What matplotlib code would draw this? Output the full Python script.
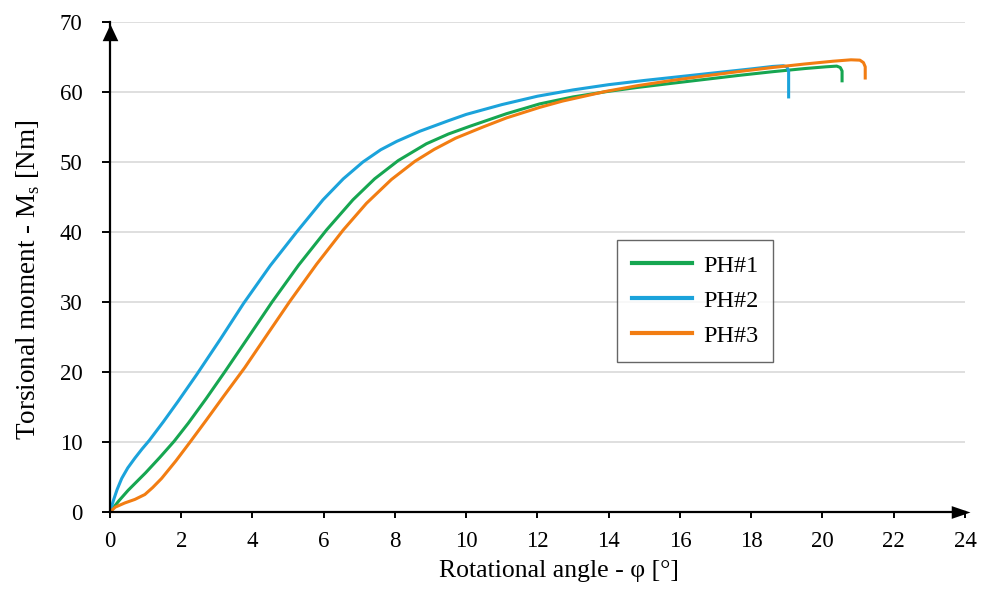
import matplotlib
matplotlib.use("Agg")
import matplotlib.pyplot as plt
from matplotlib.path import Path

plt.rcParams['font.family'] = ['Liberation Serif', 'DejaVu Serif']
plt.rcParams['mathtext.fontset'] = 'custom'
plt.rcParams['mathtext.rm'] = 'Liberation Serif'

# PH#1 (green)
ph1_x = [0, 0.25, 0.51, 1.0, 1.4, 1.8, 2.2, 2.7, 3.22, 3.9, 4.55, 5.3, 6.08, 6.82, 7.43, 8.09, 8.88, 9.5, 10.1, 11.13, 12.06, 13.0, 13.93, 14.8, 15.7, 16.7, 17.7, 18.6, 19.5, 20.1, 20.4, 20.5, 20.55, 20.55]
ph1_y = [0, 1.6, 3.1, 5.6, 7.8, 10.1, 12.7, 16.2, 20, 25.1, 30, 35.3, 40.3, 44.6, 47.6, 50.2, 52.6, 54.0, 55.1, 56.9, 58.3, 59.3, 60.05, 60.65, 61.2, 61.8, 62.4, 62.9, 63.35, 63.6, 63.7, 63.5, 63.0, 61.6]

# PH#2 (blue)
ph2_x = [0, 0.1, 0.2, 0.33, 0.5, 0.7, 0.9, 1.1, 1.5, 1.91, 2.43, 3.1, 3.75, 4.5, 5.24, 5.98, 6.55, 7.1, 7.6, 8.05, 8.7, 9.5, 10.0, 11.0, 12.0, 13.0, 14.0, 15.0, 16.0, 17.0, 18.0, 18.6, 18.9, 19.0, 19.05, 19.05]
ph2_y = [0, 1.7, 3.2, 4.8, 6.3, 7.7, 9.0, 10.2, 12.9, 15.8, 19.6, 24.7, 29.8, 35.2, 40, 44.6, 47.6, 50, 51.75, 52.95, 54.4, 55.9, 56.8, 58.2, 59.4, 60.3, 61.05, 61.65, 62.2, 62.75, 63.3, 63.65, 63.75, 63.6, 63.0, 59.3]

# PH#3 (orange)
ph3_x = [0, 0.15, 0.42, 0.7, 0.98, 1.2, 1.45, 1.85, 2.25, 2.7, 3.2, 3.78, 4.42, 5.05, 5.8, 6.55, 7.2, 7.9, 8.56, 9.1, 9.7, 10.47, 11.13, 12.06, 12.7, 13.93, 14.8, 15.7, 16.7, 17.7, 18.6, 19.5, 20.3, 20.8, 21.05, 21.15, 21.2, 21.2]
ph3_y = [0, 0.7, 1.3, 1.8, 2.5, 3.5, 4.8, 7.3, 10, 13.1, 16.6, 20.6, 25.4, 30.1, 35.4, 40.3, 44.1, 47.5, 50.1, 51.8, 53.4, 55.0, 56.3, 57.8, 58.7, 60.1, 60.9, 61.6, 62.3, 62.95, 63.5, 64.0, 64.4, 64.6, 64.55, 64.2, 63.6, 62.0]

fig = plt.figure(figsize=(9.88, 5.9), dpi=100)
ax = fig.add_axes([0.1113, 0.1322, 0.9767 - 0.1113, 0.9627 - 0.1322])

ax.plot(ph1_x, ph1_y, color='#16a651', lw=2.2, label='PH#1')
ax.plot(ph2_x, ph2_y, color='#1ba3db', lw=2.2, label='PH#2')
ax.plot(ph3_x, ph3_y, color='#f27d12', lw=2.2, label='PH#3')

ax.set_xlim(0, 24)
ax.set_ylim(0, 70)
ax.set_xticks(range(0, 25, 2))
ax.set_yticks(range(0, 71, 10))
ax.yaxis.grid(True, color='#d9d9d9', lw=1.2)
ax.set_axisbelow(True)

for s in ['top', 'right']:
    ax.spines[s].set_visible(False)
for s in ['left', 'bottom']:
    ax.spines[s].set_linewidth(1.6)
    ax.spines[s].set_color('black')
ax.tick_params(axis='x', direction='out', length=4.5, width=1.4, labelsize=16.5, pad=9)
ax.tick_params(axis='y', direction='out', length=5.8, width=1.4, labelsize=16.5, pad=14)

# arrow heads on the axes (tip at the marker origin)
up = Path([(0, 0), (-0.47, -1), (0.47, -1), (0, 0)], [1, 2, 2, 79])
right = Path([(0, 0), (-1, 0.34), (-1, -0.34), (0, 0)], [1, 2, 2, 79])
ax.plot(0, 0.995, marker=up, color='black', ms=24, mew=0, transform=ax.transAxes, clip_on=False)
ax.plot(1.006, 0, marker=right, color='black', ms=27, mew=0, transform=ax.transAxes, clip_on=False)

ax.set_xlabel('Rotational angle - φ [°]', fontsize=18.5)
ax.set_ylabel('Torsional moment - M$_\\mathrm{s}$ [Nm]', fontsize=19.5)
ax.xaxis.set_label_coords(0.5246, -0.098)
ax.yaxis.set_label_coords(-0.0795, 0.473)

leg = ax.legend(loc='upper left', bbox_to_anchor=(0.593, 0.555), fontsize=17.5,
                frameon=True, fancybox=False, handlelength=2.5, handletextpad=0.45,
                borderpad=0.6, labelspacing=0.54, borderaxespad=0)
leg.get_frame().set_edgecolor('#404040')
leg.get_frame().set_linewidth(1.0)
for h in leg.get_lines():
    h.set_linewidth(3)

fig.savefig('out.png', dpi=100)
